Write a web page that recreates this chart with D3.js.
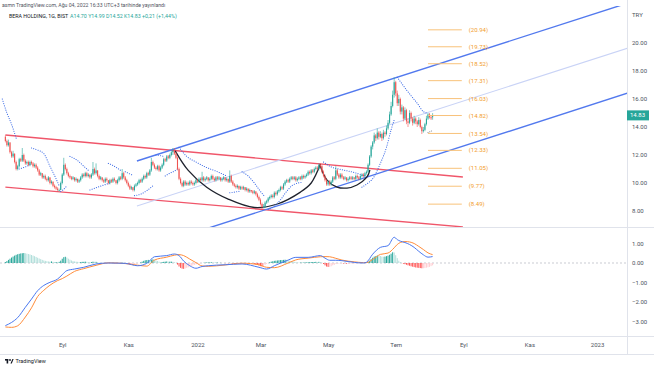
<!DOCTYPE html>
<html>
<head>
<meta charset="utf-8">
<script src="https://cdn.jsdelivr.net/npm/d3@7"></script>
<style>
  body { margin: 0; background: #fff; }
  svg { display: block; font-family: Roboto, "Liberation Sans", sans-serif; }
</style>
</head>
<body>
<div id="chart"></div>
<script>
// ---- data ----
// daily candles, Jul 12 2021 .. Aug 4 2022 ("open high low close")
var candleRows = `
13.3 13.4 12.9 13.0,13.0 13.1 12.6 12.7,12.7 13.1 12.6 12.9,12.9 12.9 12.1 12.2,12.2 12.3 11.8 11.9,11.9 12.3 11.8 12.1,12.1 12.1 11.4 11.5,
11.5 11.6 10.9 11.0,11.0 11.3 10.9 11.2,11.2 11.8 11.1 11.7,11.7 11.8 11.5 11.6,11.6 12.5 11.5 12.0,12.0 12.1 11.5 11.6,11.6 11.7 11.3 11.4,11.4 11.6 11.3 11.5,11.5 11.6 11.2 11.3,11.3 11.6 11.2 11.5,
11.5 11.6 11.3 11.4,11.4 11.5 11.1 11.2,11.2 11.4 11.1 11.3,11.3 11.4 11.0 11.1,11.1 11.2 10.8 10.9,10.9 11.0 10.5 10.6,10.6 10.8 10.5 10.7,10.7 10.7 10.3 10.4,10.4 10.6 10.3 10.5,10.5 10.6 10.2 10.3,
10.3 10.4 10.1 10.2,10.2 10.5 10.1 10.4,10.4 10.4 9.9 10.0,10.0 10.2 9.9 10.1,10.1 10.1 9.7 9.8,9.8 9.9 9.6 9.7,9.7 9.8 9.5 9.6,9.6 9.7 9.4 9.5,9.5 9.6 9.4 9.5,9.5 10.1 9.5 10.0,
10.0 10.7 9.9 10.6,10.6 11.8 10.5 11.3,11.3 11.4 10.9 11.0,11.0 11.1 10.6 10.7,10.7 10.8 10.4 10.5,10.5 10.6 10.3 10.4,10.4 10.5 10.2 10.3,10.3 10.5 10.2 10.4,10.4 10.4 10.1 10.2,10.2 10.4 10.1 10.3,
10.3 10.3 10.0 10.1,10.1 10.3 10.0 10.2,10.2 10.5 10.1 10.4,10.4 10.7 10.3 10.6,10.6 10.7 10.4 10.5,10.5 10.8 10.4 10.7,10.7 10.8 10.4 10.5,10.5 10.7 10.4 10.6,10.6 10.6 10.3 10.4,10.4 10.7 10.3 10.6,
10.6 11.5 10.5 11.0,11.0 11.1 10.6 10.7,10.7 11.4 10.6 10.9,10.9 10.9 10.4 10.5,10.5 10.6 10.2 10.3,10.3 10.5 10.2 10.4,10.4 10.4 10.1 10.2,10.2 10.3 10.0 10.1,10.1 10.4 10.0 10.3,10.3 10.4 10.1 10.2,
10.2 10.2 9.9 10.0,10.0 10.3 9.9 10.2,10.2 10.3 10.0 10.1,10.1 10.4 10.0 10.3,10.3 10.4 10.1 10.2,10.2 10.2 9.9 10.0,10.0 10.3 9.9 10.2,10.2 10.5 10.1 10.4,10.4 10.5 10.2 10.3,10.3 11.0 10.2 10.7,
10.7 10.8 10.3 10.4,10.4 10.5 10.1 10.2,10.2 10.3 9.9 10.0,10.0 10.1 9.7 9.8,9.8 9.9 9.5 9.6,9.6 9.8 9.5 9.7,9.7 9.7 9.4 9.5,9.5 9.9 9.4 9.8,9.8 10.0 9.7 9.9,9.9 10.1 9.8 10.0,
10.0 10.3 9.9 10.2,10.2 10.3 10.0 10.1,10.1 10.4 10.0 10.3,10.3 10.6 10.2 10.5,10.5 10.6 10.3 10.4,10.4 10.8 10.3 10.7,10.7 10.8 10.5 10.6,10.6 11.0 10.5 10.9,10.9 11.8 10.8 11.5,11.5 11.6 11.2 11.3,
11.3 11.4 11.0 11.1,11.1 11.2 10.9 11.0,11.0 11.3 10.9 11.2,11.2 11.3 10.8 10.9,10.9 11.2 10.8 11.1,11.1 11.4 11.0 11.3,11.3 11.8 11.2 11.7,11.7 11.8 11.5 11.6,11.6 12.0 11.5 11.9,11.9 12.0 11.7 11.8,
11.8 12.1 11.7 12.0,12.0 12.3 11.9 12.2,12.2 12.5 12.0 12.3,12.3 12.5 12.0 12.1,12.1 12.2 11.7 11.8,11.8 11.9 10.9 11.0,11.0 11.1 10.2 10.3,10.3 10.4 9.9 10.0,10.0 10.1 9.7 9.8,9.8 10.2 9.7 10.1,
10.1 10.2 9.8 9.9,9.9 10.1 9.8 10.0,10.0 10.1 9.8 9.9,9.9 10.2 9.8 10.1,10.1 10.2 9.9 10.0,10.0 10.1 9.8 9.9,9.9 10.1 9.8 10.0,10.0 10.3 9.9 10.2,10.2 10.3 10.0 10.1,10.1 10.4 10.0 10.3,
10.3 10.4 10.1 10.2,10.2 10.8 10.1 10.4,10.4 10.5 10.1 10.2,10.2 10.4 10.1 10.3,10.3 10.5 10.2 10.4,10.4 10.4 10.1 10.2,10.2 10.4 10.1 10.3,10.3 10.6 10.2 10.5,10.5 10.6 10.2 10.3,10.3 10.4 10.1 10.2,
10.2 10.5 10.1 10.4,10.4 10.5 10.2 10.3,10.3 10.5 10.2 10.4,10.4 10.4 10.1 10.2,10.2 10.4 10.1 10.3,10.3 10.5 10.2 10.4,10.4 10.4 10.1 10.2,10.2 10.4 10.1 10.3,10.3 10.3 10.0 10.1,10.1 10.9 10.0 10.5,
10.5 10.6 10.0 10.1,10.1 10.2 9.8 9.9,9.9 10.0 9.7 9.8,9.8 9.9 9.6 9.7,9.7 9.9 9.6 9.8,9.8 9.8 9.5 9.6,9.6 9.8 9.5 9.7,9.7 9.8 9.5 9.6,9.6 9.8 9.5 9.7,9.7 9.7 9.4 9.5,
9.5 9.7 9.4 9.6,9.6 9.6 9.3 9.4,9.4 9.6 9.3 9.5,9.5 9.5 9.3 9.4,9.4 9.5 9.2 9.3,9.3 9.5 9.2 9.4,9.4 9.4 9.1 9.2,9.2 9.3 8.9 9.0,9.0 9.1 8.7 8.8,8.8 8.9 8.4 8.5,
8.5 8.6 8.1 8.3,8.3 8.5 8.2 8.3,8.3 8.7 8.2 8.6,8.6 8.8 8.5 8.7,8.7 9.0 8.6 8.9,8.9 9.1 8.8 9.0,9.0 9.2 8.9 9.1,9.1 9.2 8.9 9.0,9.0 9.4 8.9 9.3,9.3 9.4 9.1 9.2,
9.2 9.5 9.1 9.4,9.4 9.6 9.3 9.5,9.5 9.8 9.4 9.7,9.7 9.8 9.5 9.6,9.6 10.0 9.5 9.9,9.9 10.2 9.8 10.1,10.1 10.3 10.0 10.2,10.2 10.3 10.0 10.1,10.1 10.4 10.0 10.3,10.3 10.5 10.2 10.4,
10.4 10.5 10.2 10.3,10.3 10.5 10.2 10.4,10.4 10.5 10.1 10.2,10.2 10.4 10.1 10.3,10.3 10.5 10.2 10.4,10.4 10.5 10.2 10.3,10.3 10.6 10.2 10.5,10.5 10.6 10.3 10.4,10.4 10.6 10.3 10.5,10.5 10.7 10.4 10.6,
10.6 10.9 10.5 10.8,10.8 10.9 10.6 10.7,10.7 11.0 10.6 10.9,10.9 11.0 10.7 10.8,10.8 11.1 10.7 11.0,11.0 11.2 10.9 11.1,11.1 11.2 10.9 11.0,11.0 11.4 10.9 11.3,11.3 11.4 11.1 11.2,11.2 11.3 10.7 10.8,
10.8 10.9 10.4 10.5,10.5 10.6 10.1 10.2,10.2 10.3 9.8 9.9,9.9 10.2 9.8 10.1,10.1 10.2 9.8 9.9,9.9 10.2 9.8 10.1,10.1 10.5 10.0 10.4,10.4 10.5 10.2 10.3,10.3 11.2 10.2 10.9,10.9 11.0 10.5 10.6,
10.6 10.7 10.3 10.4,10.4 10.7 10.3 10.6,10.6 10.7 10.3 10.4,10.4 10.5 10.2 10.3,10.3 10.5 10.2 10.4,10.4 10.4 10.1 10.2,10.2 10.4 10.1 10.3,10.3 10.5 10.2 10.4,10.4 10.5 10.2 10.3,10.3 10.5 10.2 10.4,
10.4 10.4 10.2 10.3,10.3 10.6 10.2 10.5,10.5 10.6 10.3 10.4,10.4 10.5 10.2 10.3,10.3 10.6 10.2 10.5,10.5 10.7 10.4 10.6,10.6 10.7 10.4 10.5,10.5 10.8 10.4 10.7,10.7 10.9 10.6 10.8,10.8 11.4 10.7 11.3,
11.3 12.0 11.2 11.9,11.9 12.7 11.8 12.6,12.6 13.0 12.4 12.9,12.9 13.6 12.8 13.4,13.4 13.5 13.0 13.2,13.2 13.9 13.1 13.6,13.6 13.7 13.1 13.3,13.3 13.7 13.2 13.5,13.5 13.6 13.0 13.2,13.2 13.8 13.1 13.6,
13.6 13.7 13.3 13.5,13.5 14.1 13.4 13.9,13.9 14.5 13.8 14.3,14.3 15.1 14.2 14.9,14.9 15.8 14.8 15.5,15.5 16.6 15.4 16.3,16.3 17.55 16.1 17.2,17.2 17.3 16.2 16.4,16.4 16.6 15.5 15.7,15.7 16.3 15.5 16.0,
16.0 16.1 14.9 15.1,15.1 15.6 14.9 15.4,15.4 15.5 14.4 14.6,14.6 15.4 14.5 15.2,15.2 15.3 14.2 14.4,14.4 14.6 14.0 14.3,14.3 15.2 14.2 15.0,15.0 15.1 14.4 14.6,14.6 14.7 14.1 14.3,14.3 14.8 14.2 14.6,
14.6 14.7 14.2 14.4,14.4 14.5 14.0 14.2,14.2 14.7 14.1 14.5,14.5 14.6 13.9 14.0,14.0 14.1 13.5 13.7,13.7 14.0 13.6 13.8,13.8 14.3 13.7 14.2,14.2 14.8 14.1 14.6,14.6 15.0 14.5 14.9,14.9 15.0 14.6 14.7,
14.7 14.8 14.5 14.62,14.70 14.99 14.52 14.83`;

// MACD histogram, one value per candle
var macdHist = [
  0.05,0.10,0.16,0.22,0.28,0.33,0.38,
  0.42,0.45,0.47,0.49,0.50,0.51,0.50,0.48,0.46,0.44,
  0.41,0.38,0.35,0.31,0.27,0.23,0.20,0.16,0.13,0.11,
  0.09,0.08,0.07,0.08,0.06,0.05,0.05,0.04,0.06,0.12,
  0.22,0.30,0.32,0.28,0.22,0.17,0.13,0.10,0.08,0.07,
  0.06,0.05,0.05,0.06,0.06,0.07,0.06,0.05,0.04,0.05,
  0.07,0.06,0.06,0.04,0.02,0.01,0.00,-0.01,-0.01,-0.02,
  -0.02,-0.02,-0.01,-0.01,-0.02,-0.03,-0.02,-0.01,0.00,0.02,
  0.01,-0.01,-0.03,-0.05,-0.06,-0.06,-0.06,-0.05,-0.03,-0.02,
  0.00,0.03,0.07,0.11,0.14,0.15,0.16,0.15,0.17,0.19,
  0.16,0.13,0.10,0.07,0.05,0.05,0.06,0.07,0.08,0.07,
  0.07,0.07,0.06,0.04,0.01,-0.08,-0.18,-0.25,-0.29,-0.30,
  -0.28,-0.25,-0.22,-0.19,-0.16,-0.13,-0.10,-0.07,-0.05,-0.03,
  -0.02,0.00,0.01,0.02,0.03,0.03,0.03,0.04,0.03,0.02,
  0.02,0.02,0.01,0.01,0.00,0.00,-0.01,-0.01,-0.02,0.01,
  -0.01,-0.03,-0.05,-0.06,-0.06,-0.06,-0.06,-0.05,-0.05,-0.05,
  -0.05,-0.05,-0.05,-0.05,-0.05,-0.06,-0.08,-0.10,-0.13,-0.16,
  -0.18,-0.15,-0.10,-0.05,0.00,0.04,0.07,0.09,0.11,0.12,
  0.13,0.14,0.15,0.15,0.16,0.17,0.16,0.14,0.12,0.10,
  0.08,0.06,0.04,0.03,0.02,0.02,0.02,0.02,0.03,0.03,
  0.04,0.04,0.05,0.05,0.05,0.06,0.05,0.06,0.05,0.02,
  -0.05,-0.12,-0.18,-0.20,-0.20,-0.17,-0.12,-0.10,-0.04,-0.03,
  -0.03,-0.02,-0.02,-0.03,-0.03,-0.04,-0.04,-0.04,-0.03,-0.03,
  -0.03,-0.02,-0.02,-0.02,-0.01,-0.01,0.00,0.01,0.02,0.06,
  0.12,0.20,0.27,0.33,0.35,0.38,0.37,0.36,0.33,0.32,
  0.33,0.35,0.38,0.42,0.48,0.55,0.54,0.40,0.25,0.12,
  0.05,0.00,-0.04,-0.06,-0.09,-0.12,-0.14,-0.17,-0.19,-0.21,
  -0.23,-0.24,-0.25,-0.26,-0.27,-0.27,-0.26,-0.24,-0.22,-0.20,
  -0.16,-0.12
];

// MACD and signal lines: [bar, value]
var macdLine = [[3,-3.21],[7,-3.05],[11,-2.80],[16,-2.27],[20,-1.85],[24,-1.42],[28,-1.15],[32,-0.99],[37,-0.82],[40,-0.60],
  [43,-0.39],[48,-0.31],[54,-0.22],[62,-0.05],[70,0.00],[81,-0.02],[89,-0.14],[95,-0.02],[100,0.32],[108,0.38],[113,0.46],
  [116,0.38],[119,0.10],[123,-0.14],[127,-0.27],[131,-0.18],[135,-0.14],[146,-0.09],[157,-0.05],[168,-0.22],[173,-0.31],
  [178,-0.14],[187,0.15],[192,0.29],[200,0.29],[208,0.38],[211,0.25],[214,0.14],[218,0.14],[222,0.12],[230,0.03],[236,0.00],
  [238,0.04],[242,0.45],[247,0.80],[252,0.89],[256,1.32],[258,1.20],[260,1.12],[263,1.05],[266,0.95],[269,0.80],[272,0.60],
  [275,0.42],[278,0.30],[281,0.33]];
var signalLine = [[3,-3.28],[7,-3.30],[11,-3.22],[16,-2.77],[20,-2.30],[24,-1.72],[28,-1.40],[32,-1.14],[37,-0.90],[40,-0.80],
  [43,-0.67],[48,-0.43],[54,-0.29],[62,-0.12],[70,0.01],[81,-0.03],[89,-0.11],[95,-0.16],[100,0.15],[108,0.30],[113,0.40],
  [116,0.43],[119,0.38],[123,0.20],[127,0.02],[131,-0.15],[135,-0.17],[146,-0.10],[157,-0.01],[168,-0.09],[173,-0.22],
  [178,-0.24],[187,0.00],[192,0.16],[200,0.25],[208,0.32],[211,0.33],[214,0.32],[218,0.24],[222,0.15],[230,0.06],[236,0.02],
  [238,0.02],[242,0.18],[247,0.44],[252,0.51],[256,0.78],[258,0.95],[260,1.05],[263,1.10],[266,1.08],[269,1.00],[272,0.85],
  [275,0.69],[278,0.52],[281,0.43]];

// parabolic SAR pieces: [bar, price]
var sarAbove = [
  [[1,16.0],[4,15.0],[7,14.2],[10,13.2]],
  [[20,12.5],[24,12.35],[28,12.1],[32,11.2],[36,10.3],[38,9.8]],
  [[45,11.9],[50,11.6],[54,11.2],[57,10.9]],
  [[70,11.4],[73,11.25],[76,11.05],[78,10.9]],
  [[81,10.8],[83,10.7],[86,10.55]],
  [[101,12.0],[104,11.95],[106,11.9]],
  [[116,12.55],[121,11.9],[127,11.5],[133,11.15],[140,10.85],[147,10.5]],
  [[157,10.8],[161,10.5],[165,10.0],[169,9.4],[172,9.0]],
  [[210,11.5],[215,11.15],[222,10.95],[230,10.75],[237,10.5]],
  [[258,17.55],[261,17.1],[264,16.65],[268,16.1],[271,15.7],[275,15.1],[277,15.0]]
];
var sarBelow = [
  [[12,11.0],[16,11.15],[19,11.3]],
  [[39,9.4],[41,9.55],[43,9.8]],
  [[58,9.5],[63,9.7],[67,9.85],[71,10.0]],
  [[87,9.1],[91,9.2],[95,9.45],[99,9.8]],
  [[107,10.5],[110,10.7],[113,10.85],[115,11.0]],
  [[149,9.3],[152,9.35],[155,9.4]],
  [[174,8.1],[178,8.35],[182,8.8],[186,9.4],[190,9.85],[196,10.05]],
  [[235,9.7],[239,10.0],[242,10.3],[247,11.4],[251,12.55],[254,13.8],[256,14.5]]
];
var sarLast = [[278,13.6],[281,13.75]];

// drawings
var redUpper = [[3,13.43],[300.7,10.43]];
var redLower = [[3,9.71],[300.7,6.86]];
var channelAnchors = [[88.6,11.57],[256.5,17.5]];
var channelOffsets = [0, -3.215, -6.43];
var bigCup = [[113.5,12.3],[122,10.9],[134,9.7],[148,8.85],[165,8.25],[180,8.5],[195,9.35],[202,10.0],[208,11.35]];
var smallCup = [[207.7,11.29],[212.3,10.21],[218.8,9.71],[225.3,9.64],[231.8,9.86],[238.3,10.43],[240.2,10.93]];
var fibLevels = [20.94, 19.73, 18.52, 17.31, 16.03, 14.82, 13.54, 12.33, 11.05, 9.77, 8.49];
var fibBars = [278, 300];

var priceTicks = [8, 10, 12, 14, 16, 18, 20];
var macdTicks = [1, 0, -1, -2, -3];
var tickMonths = ["2021-09", "2021-11", "2022-01", "2022-03", "2022-05", "2022-07", "2022-09", "2022-11", "2023-01"];
var tickLabels = ["Eyl", "Kas", "2022", "Mar", "May", "Tem", "Eyl", "Kas", "2023"];
var lastPrice = 14.83;
var lastBar = 281;

// ---- layout ----
var svgWidth = 654, svgHeight = 366;
var paneRight = 627;
var mainBottom = 227, macdTop = 228, macdBottom = 336, timeBottom = 354;

var candles = candleRows.trim().split(",").map(function(r) {
  var v = r.trim().split(/\s+/).map(Number);
  return { o: v[0], h: v[1], l: v[2], c: v[3] };
});
candles.forEach(function(d, i) { d.bar = lastBar - (candles.length - 1 - i); d.hist = macdHist[i]; });

// trading-day axis (weekdays)
var axisDays = d3.timeDay.range(new Date(2021, 6, 7), new Date(2023, 0, 28)).filter(d => d.getDay() % 6 !== 0);
var fmtMonth = d3.timeFormat("%Y-%m");
var tickBars = tickMonths.map(m => axisDays.findIndex(d => fmtMonth(d) === m));

var x = d3.scaleLinear().domain([-0.5, axisDays.length - 0.5]).range([0, paneRight]);
var y = d3.scaleLinear().domain([20, 8]).range([43, 211]);
var yM = d3.scaleLinear().domain([1, -3]).range([243.5, 321.5]);
var barW = Math.max(1, (x(1) - x(0)) * 0.7);

var svg = d3.select("#chart").append("svg")
  .attr("width", svgWidth)
  .attr("height", svgHeight);

svg.append("rect").attr("width", svgWidth).attr("height", svgHeight).attr("fill", "#fff");

var defs = svg.append("defs");
defs.append("clipPath").attr("id", "clipMain")
  .append("rect").attr("x", 0).attr("y", 6).attr("width", paneRight).attr("height", mainBottom - 6);
defs.append("clipPath").attr("id", "clipMacd")
  .append("rect").attr("x", 0).attr("y", macdTop).attr("width", paneRight).attr("height", macdBottom - macdTop);

// pane borders
var borderColor = "#e0e3eb";
svg.append("line").attr("x1", 0).attr("x2", svgWidth).attr("y1", mainBottom + 0.5).attr("y2", mainBottom + 0.5).attr("stroke", borderColor);
svg.append("line").attr("x1", 0).attr("x2", svgWidth).attr("y1", macdBottom + 0.5).attr("y2", macdBottom + 0.5).attr("stroke", borderColor);
svg.append("line").attr("x1", 0).attr("x2", svgWidth).attr("y1", timeBottom + 0.5).attr("y2", timeBottom + 0.5).attr("stroke", borderColor);
svg.append("line").attr("x1", paneRight + 0.5).attr("x2", paneRight + 0.5).attr("y1", 0).attr("y2", timeBottom).attr("stroke", borderColor);

// ---- main pane ----
var main = svg.append("g").attr("clip-path", "url(#clipMain)");
var lineXY = d3.line().x(d => x(d[0])).y(d => y(d[1]));

// red descending channel
[redUpper, redLower].forEach(function(seg) {
  main.append("path").attr("d", lineXY(seg)).attr("fill", "none")
    .attr("stroke", "#f0566a").attr("stroke-width", 1.3);
});

// blue ascending parallel channel, extended to the right
var chan = d3.scaleLinear().domain([channelAnchors[0][0], channelAnchors[1][0]]).range([channelAnchors[0][1], channelAnchors[1][1]]);
channelOffsets.forEach(function(off, i) {
  var x0 = channelAnchors[0][0], x1 = 430;
  main.append("path")
    .attr("d", lineXY([[x0, chan(x0) + off], [x1, chan(x1) + off]]))
    .attr("fill", "none")
    .attr("stroke", i === 1 ? "#c9d3f6" : "#5279ee")
    .attr("stroke-width", i === 1 ? 1.1 : 1.4);
});

// cup arcs
var arcLine = d3.line().x(d => x(d[0])).y(d => y(d[1])).curve(d3.curveCatmullRom);
[bigCup, smallCup].forEach(function(pts) {
  main.append("path").attr("d", arcLine(pts)).attr("fill", "none")
    .attr("stroke", "#1e222d").attr("stroke-width", 1.3);
});

// parabolic SAR
var sarPath = d3.line().x(d => x(d[0])).y(d => y(d[1])).curve(d3.curveMonotoneX);
sarAbove.concat(sarBelow).forEach(function(seg) {
  main.append("path").attr("d", sarPath(seg)).attr("fill", "none")
    .attr("stroke", "#3b6ae6").attr("stroke-width", 1.1)
    .attr("stroke-linecap", "round").attr("stroke-dasharray", "0.1 2.2");
});
main.append("path").attr("d", sarPath(sarLast)).attr("fill", "none")
  .attr("stroke", "#8e919b").attr("stroke-width", 1.1)
  .attr("stroke-linecap", "round").attr("stroke-dasharray", "0.1 1.8");

// candles
var upColor = "#26a69a", downColor = "#ef5350";
var cg = main.append("g");
cg.selectAll("line.wick").data(candles).enter().append("line")
  .attr("class", "wick")
  .attr("x1", d => x(d.bar)).attr("x2", d => x(d.bar))
  .attr("y1", d => y(d.h)).attr("y2", d => y(d.l))
  .attr("stroke", d => d.c >= d.o ? upColor : downColor)
  .attr("stroke-width", 0.6);
cg.selectAll("rect").data(candles).enter().append("rect")
  .attr("x", d => x(d.bar) - barW / 2)
  .attr("width", barW)
  .attr("y", d => y(Math.max(d.o, d.c)))
  .attr("height", d => Math.max(0.8, Math.abs(y(d.o) - y(d.c))))
  .attr("fill", d => d.c >= d.o ? upColor : downColor);

// fib levels
var fib = svg.append("g");
fibLevels.forEach(function(v) {
  fib.append("line")
    .attr("x1", x(fibBars[0])).attr("x2", x(fibBars[1]))
    .attr("y1", y(v)).attr("y2", y(v))
    .attr("stroke", "#f8c27a").attr("stroke-width", 1);
  fib.append("text")
    .attr("x", x(fibBars[1]) + 7).attr("y", y(v)).attr("dy", "0.35em")
    .attr("font-size", 6).attr("fill", "#f29d2c")
    .text("(" + v.toFixed(2) + ")");
});

// ---- MACD pane ----
var macdG = svg.append("g").attr("clip-path", "url(#clipMacd)");
macdG.append("line").attr("x1", 0).attr("x2", paneRight).attr("y1", yM(0)).attr("y2", yM(0))
  .attr("stroke", "#b2b5be").attr("stroke-dasharray", "2 2").attr("stroke-width", 0.7);

macdG.selectAll("rect.hist").data(candles).enter().append("rect")
  .attr("class", "hist")
  .attr("x", d => x(d.bar) - 0.5)
  .attr("width", 1)
  .attr("y", d => Math.min(yM(0), yM(d.hist)))
  .attr("height", d => Math.abs(yM(d.hist) - yM(0)))
  .attr("fill", function(d, i) {
    var prev = i ? candles[i - 1].hist : 0;
    if (d.hist >= 0) return d.hist >= prev ? "#26a69a" : "#b2dfdb";
    return d.hist < prev ? "#ff5252" : "#ffcdd2";
  });

var mLine = d3.line().x(d => x(d[0])).y(d => yM(d[1])).curve(d3.curveMonotoneX);
macdG.append("path").attr("d", mLine(signalLine)).attr("fill", "none").attr("stroke", "#ff8c3a").attr("stroke-width", 1);
macdG.append("path").attr("d", mLine(macdLine)).attr("fill", "none").attr("stroke", "#4a78f0").attr("stroke-width", 1);

// ---- axes ----
var axisColor = "#4c525e";
var priceAxis = svg.append("g")
  .attr("transform", `translate(${paneRight + 2}, 0)`)
  .call(d3.axisRight(y).tickValues(priceTicks).tickSize(0).tickPadding(3).tickFormat(d3.format(".2f")));
var macdAxis = svg.append("g")
  .attr("transform", `translate(${paneRight + 2}, 0)`)
  .call(d3.axisRight(yM).tickValues(macdTicks).tickSize(0).tickPadding(3).tickFormat(d3.format(".2f")));
var timeAxis = svg.append("g")
  .attr("transform", `translate(0, ${macdBottom + 4})`)
  .call(d3.axisBottom(x).tickValues(tickBars).tickSize(0).tickPadding(3).tickFormat((d, i) => tickLabels[i]));
[priceAxis, macdAxis, timeAxis].forEach(function(a) {
  a.select(".domain").remove();
  a.selectAll("text").attr("font-size", 6).attr("fill", axisColor).attr("font-family", "Roboto, 'Liberation Sans', sans-serif");
});

svg.append("text").attr("x", paneRight + 5).attr("y", 17)
  .attr("font-size", 6).attr("fill", axisColor).text("TRY");

// last price label
svg.append("rect").attr("x", paneRight).attr("y", y(lastPrice) - 5).attr("width", 22).attr("height", 10)
  .attr("fill", "#26a69a");
svg.append("text").attr("x", paneRight + 3).attr("y", y(lastPrice)).attr("dy", "0.35em")
  .attr("font-size", 6).attr("fill", "#fff").text(lastPrice.toFixed(2));

// ---- header ----
svg.append("text").attr("x", 2).attr("y", 7)
  .attr("font-size", 5.2).attr("fill", "#50535e")
  .text("asmn TradingView.com, Ağu 04, 2022 16:33 UTC+3 tarihinde yayınlandı");
var legend = svg.append("text").attr("x", 9).attr("y", 18).attr("font-size", 5.3);
legend.append("tspan").attr("fill", "#131722").text("BERA HOLDING, 1G, BIST");
legend.append("tspan").attr("fill", "#26a69a").attr("dx", 2).text("A14.70 Y14.99 D14.52 K14.83 +0,21 (+1,44%)");

// TradingView mark
var logo = svg.append("g").attr("transform", "translate(5, 359)");
logo.append("rect").attr("x", 0).attr("y", 0).attr("width", 3.2).attr("height", 1.6).attr("fill", "#131722");
logo.append("rect").attr("x", 1.6).attr("y", 0).attr("width", 1.6).attr("height", 4.5).attr("fill", "#131722");
logo.append("circle").attr("cx", 5).attr("cy", 1).attr("r", 0.9).attr("fill", "#131722");
logo.append("path").attr("d", "M5.5 4.5 L7.4 0 L8.6 0 L6.8 4.5 Z").attr("fill", "#131722");
logo.append("text").attr("x", 10.5).attr("y", 4.4).attr("font-size", 5.5).attr("fill", "#131722").text("TradingView");
</script>
</body>
</html>
